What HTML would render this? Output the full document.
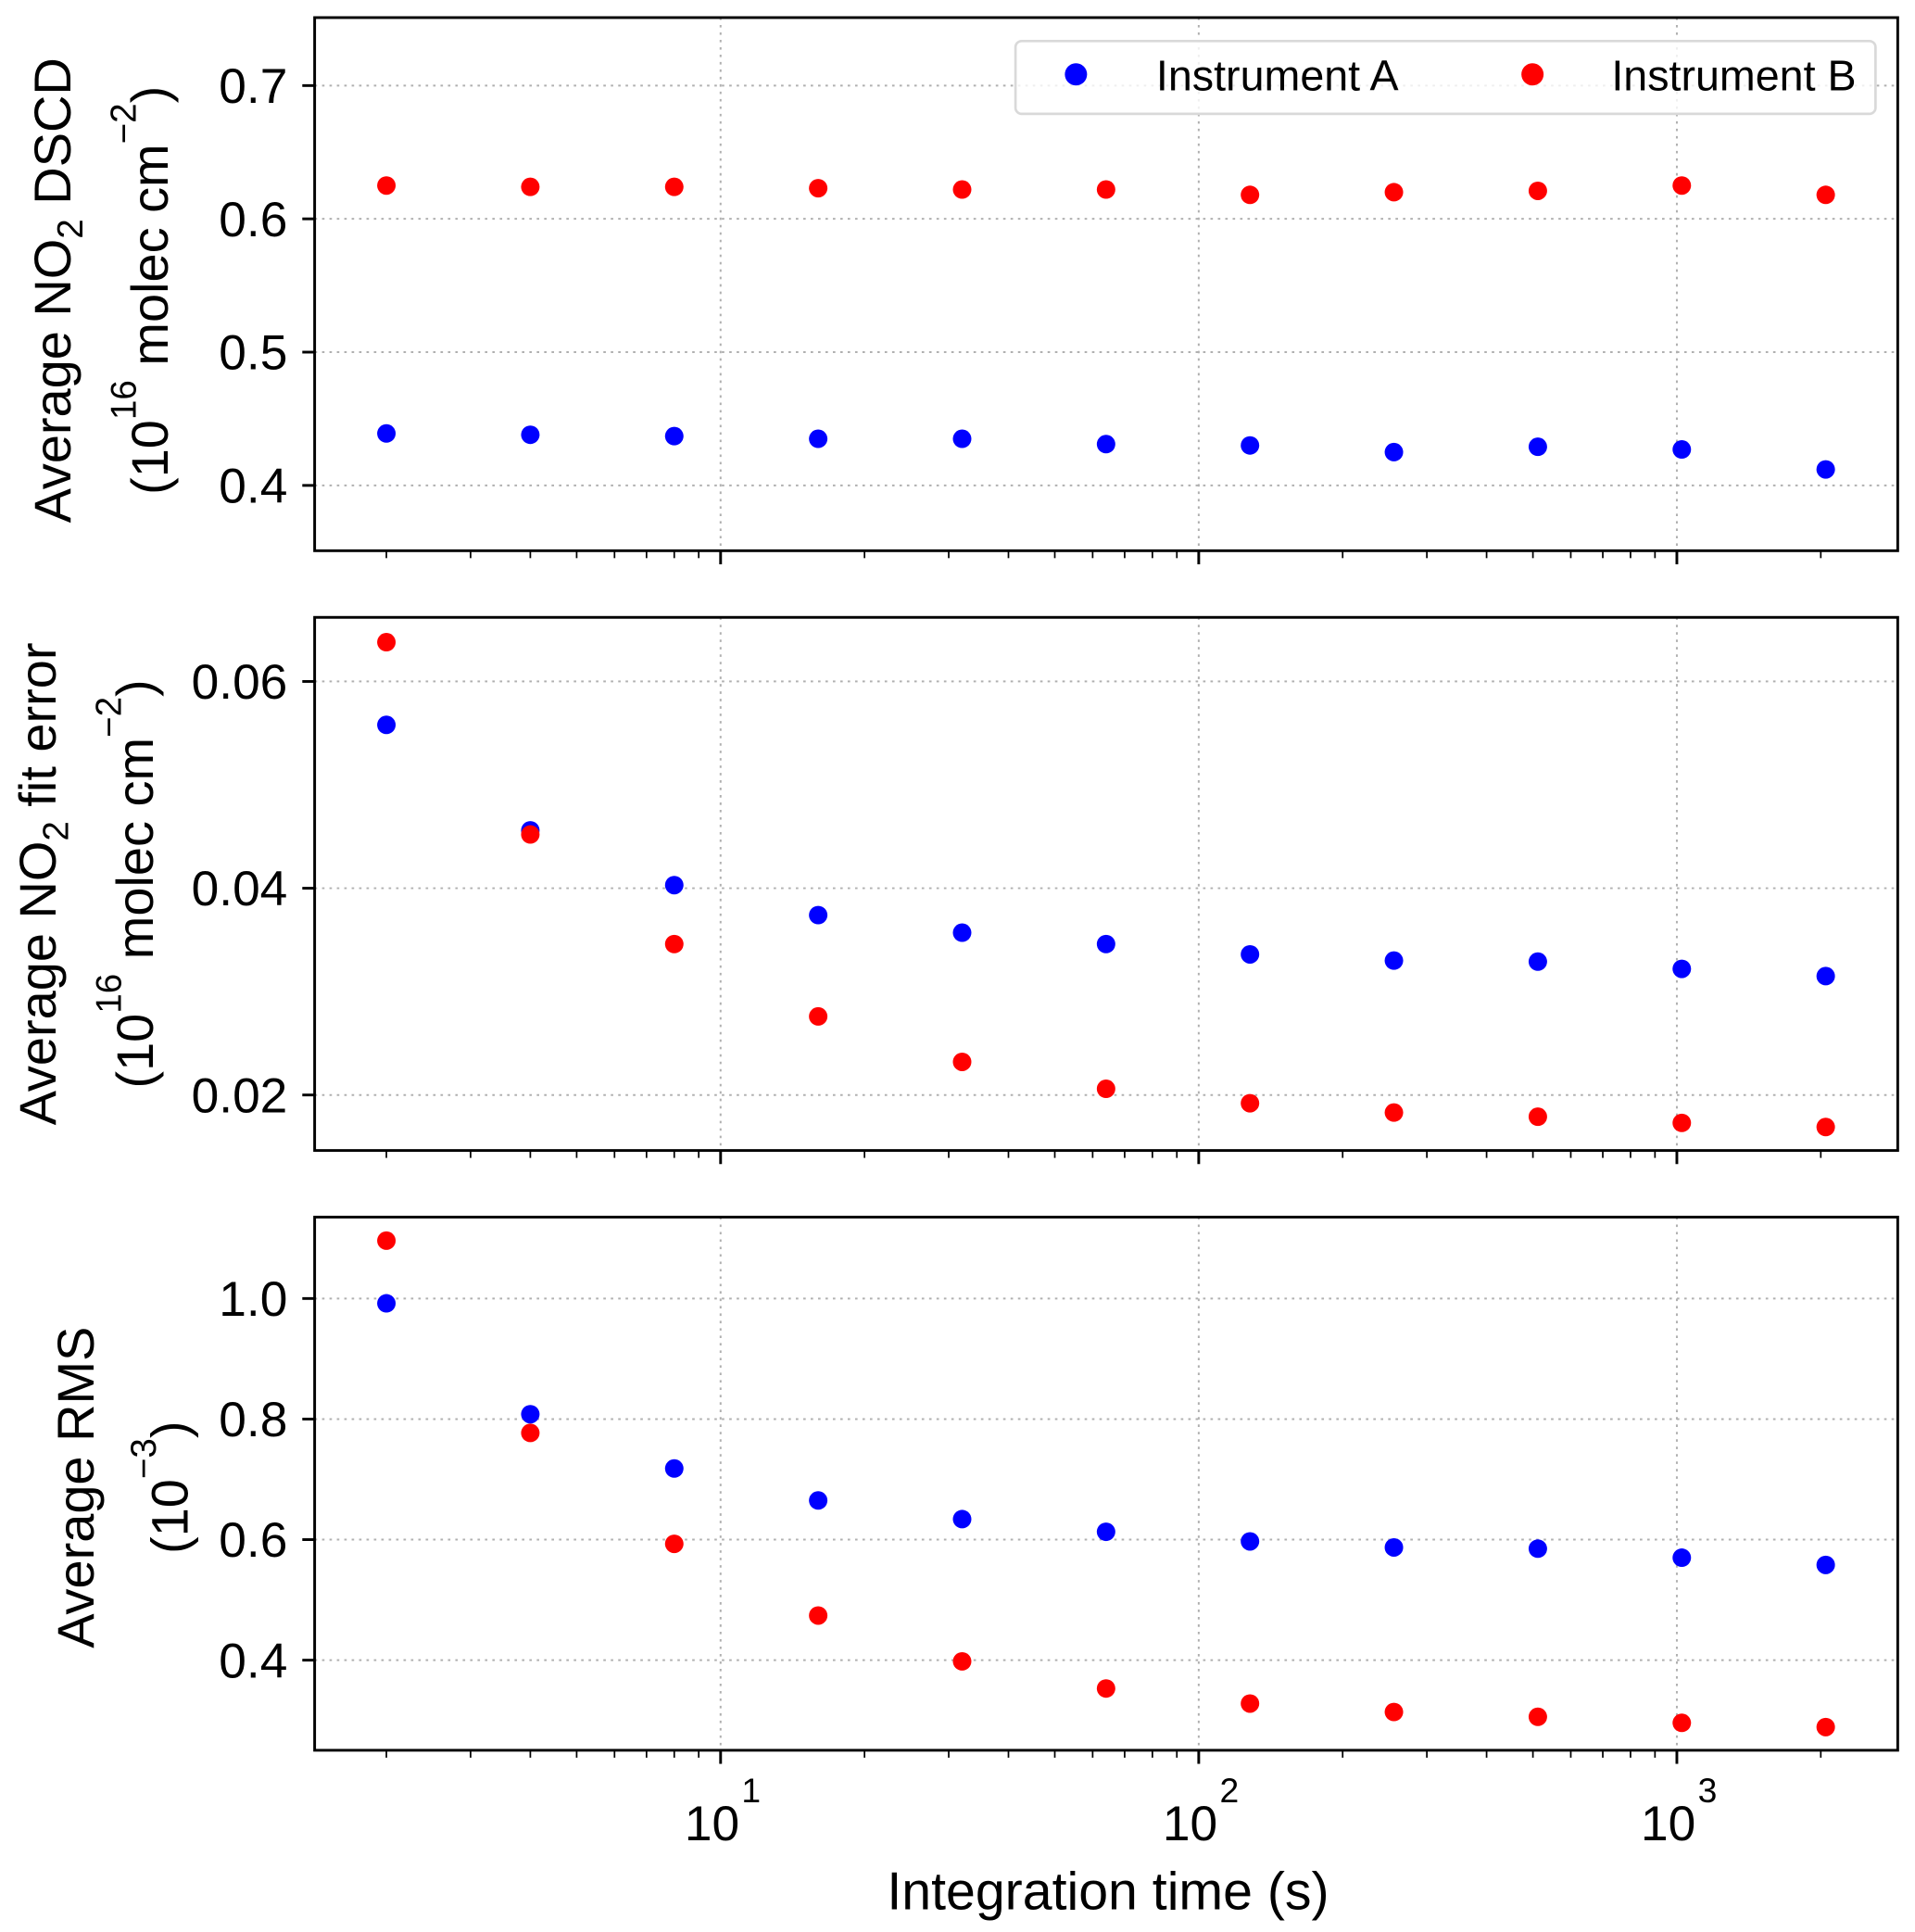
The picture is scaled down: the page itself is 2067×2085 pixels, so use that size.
<!DOCTYPE html>
<html><head><meta charset="utf-8"><style>
html,body{margin:0;padding:0;background:#fff}
svg{display:block}
text{font-family:"Liberation Sans",sans-serif;fill:#000}
</style></head><body>
<svg id="chart" width="2067" height="2085" viewBox="0 0 1552 1565" xmlns="http://www.w3.org/2000/svg"></svg>
<script>
const xValues = [2,4,8,16,32,64,128,256,512,1024,2048];
const dscdA = [0.439,0.438,0.437,0.435,0.435,0.431,0.430,0.425,0.429,0.427,0.412];
const dscdB = [0.625,0.624,0.624,0.623,0.622,0.622,0.618,0.620,0.621,0.625,0.618];
const fitA = [0.0558,0.0456,0.0403,0.0374,0.0357,0.0346,0.0336,0.0330,0.0329,0.0322,0.0315];
const fitB = [0.0638,0.0452,0.0346,0.0276,0.0232,0.0206,0.0192,0.0183,0.0179,0.0173,0.0169];
const rmsA = [0.992,0.808,0.718,0.665,0.634,0.613,0.597,0.587,0.585,0.570,0.558];
const rmsB = [1.096,0.777,0.593,0.474,0.398,0.353,0.328,0.314,0.306,0.296,0.289];
const dscdTicks = [0.4,0.5,0.6,0.7];
const fitTicks = [0.02,0.04,0.06];
const rmsTicks = [0.4,0.6,0.8,1.0];
const xDecades = [1,2,3];

const NS="http://www.w3.org/2000/svg";
const svg=document.getElementById('chart');
function el(tag,attrs,parent){const e=document.createElementNS(NS,tag);for(const k in attrs)e.setAttribute(k,attrs[k]);(parent||svg).appendChild(e);return e;}
const L=255,R=1538;
function xs(v){return 584+(Math.log10(v)-1)*387.5;}
const panels=[
 {top:14,bot:446,y0:0.351,y1:0.751,ticks:dscdTicks,dec:1,a:dscdA,b:dscdB,name:'dscd'},
 {top:500,bot:932,y0:0.01463,y1:0.0662,ticks:fitTicks,dec:2,a:fitA,b:fitB,name:'fit-error'},
 {top:986,bot:1418,y0:0.2505,y1:1.135,ticks:rmsTicks,dec:1,a:rmsA,b:rmsB,name:'rms'}
];
panels.forEach((p,pi)=>{
 const g=el('g',{});
 
 
 const ys=v=>p.bot-(v-p.y0)/(p.y1-p.y0)*(p.bot-p.top);
 xDecades.forEach(d=>{const x=xs(Math.pow(10,d));const l=el('line',{x1:x,x2:x,y1:p.top,y2:p.bot,stroke:'#b0b0b0','stroke-width':1.5,'stroke-dasharray':'2,4'},g);
  });
 p.ticks.forEach(t=>{const y=ys(t);
  const l=el('line',{x1:L,x2:R,y1:y,y2:y,stroke:'#b0b0b0','stroke-width':1.5,'stroke-dasharray':'2,4'},g);
  
  el('line',{x1:L-10,x2:L,y1:y,y2:y,stroke:'#000','stroke-width':2.2},g);
  const tx=el('text',{x:L-22,y:y+14,'text-anchor':'end','font-size':40},g);tx.textContent=t.toFixed(p.dec);
  
 });
 for(let d=0;d<=3;d++){for(let m=1;m<10;m++){const v=m*Math.pow(10,d);if(v<1.5||v>2900)continue;const x=xs(v);
   el('line',{x1:x,x2:x,y1:p.bot,y2:p.bot+(m==1?11:6),stroke:'#000','stroke-width':m==1?2.2:1.3},g);}}
 [[p.a,'#0000ff','instrument-a-point'],[p.b,'#ff0000','instrument-b-point']].forEach(([arr,c,n])=>{
  arr.forEach((v,i)=>{const ci=el('circle',{cx:xs(xValues[i]),cy:ys(v),r:7.5,fill:c},g);
   });
 });
 const fr=el('rect',{x:L,y:p.top,width:R-L,height:p.bot-p.top,fill:'none',stroke:'#000','stroke-width':2.2},g);
 
});
xDecades.forEach(d=>{const x=xs(Math.pow(10,d));
 const t=el('text',{x:x-7,y:1491,'text-anchor':'middle','font-size':40});t.textContent='10';
 
 const s=el('text',{x:x+17,y:1460,'font-size':28});s.textContent=String(d);
 
});
</script>
<svg style="position:absolute;left:0;top:0" width="2067" height="2085" viewBox="0 0 1552 1565">
 <text x="898" y="1547" text-anchor="middle" font-size="43">Integration time (s)</text>
 <text transform="translate(57,235) rotate(-90)" text-anchor="middle" font-size="42">Average NO<tspan font-size="29" dy="10">2</tspan><tspan dy="-10"> DSCD</tspan></text>
 <text transform="translate(136,235) rotate(-90)" text-anchor="middle" font-size="42">(10<tspan font-size="29" dy="-26">16</tspan><tspan dy="26"> molec cm</tspan><tspan font-size="29" dy="-26">−2</tspan><tspan dy="26">)</tspan></text>
 <text transform="translate(45,716) rotate(-90)" text-anchor="middle" font-size="42">Average NO<tspan font-size="29" dy="10">2</tspan><tspan dy="-10"> fit error</tspan></text>
 <text transform="translate(124,716) rotate(-90)" text-anchor="middle" font-size="42">(10<tspan font-size="29" dy="-26">16</tspan><tspan dy="26"> molec cm</tspan><tspan font-size="29" dy="-26">−2</tspan><tspan dy="26">)</tspan></text>
 <text transform="translate(76,1205) rotate(-90)" text-anchor="middle" font-size="42">Average RMS</text>
 <text transform="translate(152,1205) rotate(-90)" text-anchor="middle" font-size="42">(10<tspan font-size="29" dy="-26">−3</tspan><tspan dy="26">)</tspan></text>
 <g>
  <rect x="823" y="33" width="697" height="59" rx="5" fill="#fff" fill-opacity="0.8" stroke="#d9d9d9" stroke-width="2"/>
  <circle cx="872" cy="60" r="9" fill="#0000ff"/>
  <text x="937" y="73" font-size="35">Instrument A</text>
  <circle cx="1242" cy="60" r="9" fill="#ff0000"/>
  <text x="1306" y="73" font-size="35">Instrument B</text>
 </g>
</svg>
</body></html>
